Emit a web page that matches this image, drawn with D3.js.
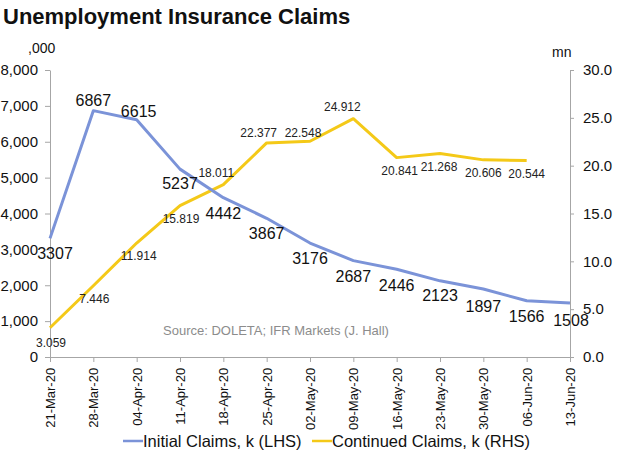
<!DOCTYPE html>
<html><head><meta charset="utf-8">
<script src="https://cdn.jsdelivr.net/npm/d3@7"></script>
<style>body{margin:0;background:#fff}svg{display:block}text{font-family:"Liberation Sans",Arial,sans-serif}</style>
</head><body>
<svg id="c" width="630" height="457"></svg>
<script>
const dates = ["21-Mar-20","28-Mar-20","04-Apr-20","11-Apr-20","18-Apr-20","25-Apr-20","02-May-20","09-May-20","16-May-20","23-May-20","30-May-20","06-Jun-20","13-Jun-20"];
const initialClaims = [3307,6867,6615,5237,4442,3867,3176,2687,2446,2123,1897,1566,1508];
const continuedClaims = [3.059,7.446,11.914,15.819,18.011,22.377,22.548,24.912,20.841,21.268,20.606,20.544];
const leftTicks = [0,1000,2000,3000,4000,5000,6000,7000,8000];
const rightTicks = [0,5,10,15,20,25,30];

// label placement offsets (layout only)
const initLabelOff = [[5,15],[0,-10],[2,-8],[0,14],[0,16],[0,15],[0,15],[0,16],[0,16],[0,15],[0,17],[0,16],[1,17]];
const contLabelOff = [[1,15],[1,13],[2,13],[1,13],[-7,-12],[-8,-10],[-7,-8],[-11,-12],[3,13],[-1,13],[0,13],[0,13]];

const svg = d3.select("#c");
const L = 50, R = 570, T = 70, B = 357;
const x = d3.scalePoint().domain(dates).range([L, R]);
const yL = d3.scaleLinear().domain([0, 8000]).range([B, T]);
const yR = d3.scaleLinear().domain([0, 30]).range([B, T]);
const axisCol = "#a6a6a6";

svg.append("text").attr("x", 3).attr("y", 24).attr("font-size", 22).attr("font-weight", "bold").attr("fill", "#111").text("Unemployment Insurance Claims");
svg.append("text").attr("x", 28).attr("y", 53).attr("font-size", 14).attr("fill", "#111").text(",000");
svg.append("text").attr("x", 552).attr("y", 57).attr("font-size", 14).attr("fill", "#111").text("mn");

const gl = svg.append("g").attr("transform", `translate(${L},0)`)
  .call(d3.axisLeft(yL).tickValues(leftTicks).tickSize(5).tickSizeOuter(0).tickPadding(7).tickFormat(d3.format(",")));
const gr = svg.append("g").attr("transform", `translate(${R},0)`)
  .call(d3.axisRight(yR).tickValues(rightTicks).tickSize(4).tickSizeOuter(0).tickPadding(9).tickFormat(d3.format(".1f")));
const gx = svg.append("g").attr("transform", `translate(0,${B})`)
  .call(d3.axisBottom(x).tickSize(5).tickSizeOuter(0));
[gl, gr, gx].forEach(g => {
  g.select(".domain").attr("stroke", axisCol);
  g.selectAll(".tick line").attr("stroke", axisCol);
  g.selectAll("text").attr("fill", "#111").attr("font-family", '"Liberation Sans",Arial,sans-serif');
});
gl.selectAll("text").attr("font-size", 15);
gr.selectAll("text").attr("font-size", 15);
gx.selectAll("text").attr("font-size", 13)
  .attr("text-anchor", "end").attr("dx", "-0.45em").attr("dy", "0.35em").attr("x", 0).attr("y", 0)
  .attr("transform", "translate(0,5) rotate(-90)");

svg.append("text").attr("x", 163).attr("y", 335).attr("font-size", 13).attr("fill", "#8c8c8c").text("Source: DOLETA; IFR Markets (J. Hall)");

const blue = "#7b93d8", yellow = "#f4c918";
const lineL = d3.line().x((d, i) => x(dates[i])).y(d => yL(d));
const lineR = d3.line().x((d, i) => x(dates[i])).y(d => yR(d));
svg.append("path").datum(continuedClaims).attr("d", lineR).attr("fill", "none").attr("stroke", yellow).attr("stroke-width", 3).attr("stroke-linejoin", "round");
svg.append("path").datum(initialClaims).attr("d", lineL).attr("fill", "none").attr("stroke", blue).attr("stroke-width", 3).attr("stroke-linejoin", "round");

svg.append("g").selectAll("text").data(continuedClaims).join("text")
  .attr("x", (d, i) => x(dates[i]) + contLabelOff[i][0])
  .attr("y", (d, i) => yR(d) + contLabelOff[i][1])
  .attr("dy", "0.35em").attr("text-anchor", "middle").attr("font-size", 12).attr("fill", "#222")
  .text(d => d3.format(".3f")(d));
svg.append("g").selectAll("text").data(initialClaims).join("text")
  .attr("x", (d, i) => x(dates[i]) + initLabelOff[i][0])
  .attr("y", (d, i) => yL(d) + initLabelOff[i][1])
  .attr("dy", "0.35em").attr("text-anchor", "middle").attr("font-size", 16).attr("fill", "#111")
  .text(d => d);

const leg = svg.append("g");
const items = [{t: "Initial Claims, k (LHS)", c: blue, x: 123}, {t: "Continued Claims, k (RHS)", c: yellow, x: 312}];
items.forEach(it => {
  leg.append("line").attr("x1", it.x).attr("x2", it.x + 20).attr("y1", 441).attr("y2", 441).attr("stroke", it.c).attr("stroke-width", 2.5);
  leg.append("text").attr("x", it.x + 20).attr("y", 447).attr("font-size", 16.5).attr("fill", "#111").text(it.t);
});
</script>
</body></html>
